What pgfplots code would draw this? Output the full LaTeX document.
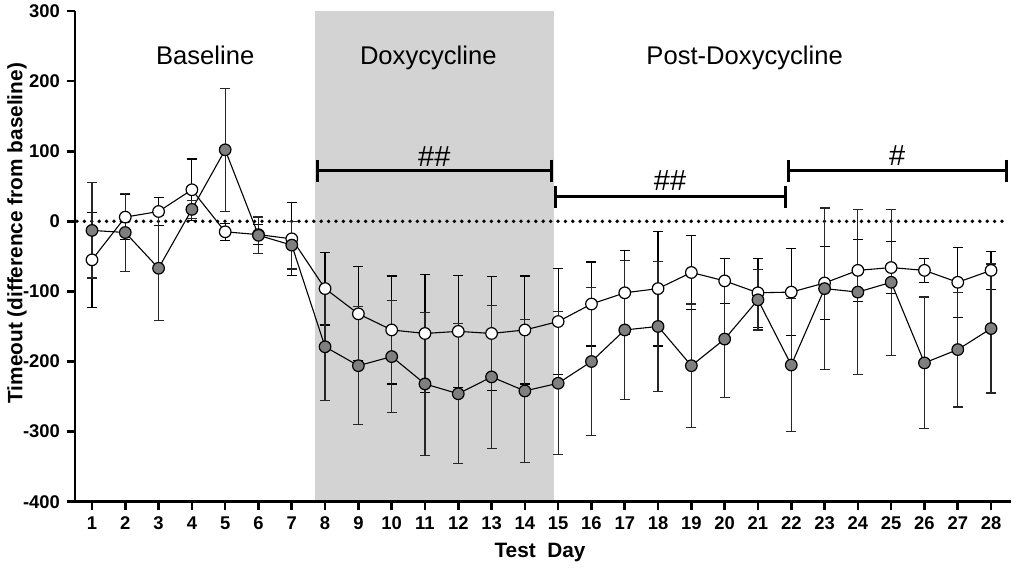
\documentclass[border=0pt]{standalone}
\usepackage{fontspec}
\setmainfont{Liberation Sans}
\usepackage{pgfplots}
\pgfplotsset{compat=1.18}
\usepackage{pgfplotstable}
\usetikzlibrary{arrows.meta}

\definecolor{shade}{HTML}{D3D3D3}
\definecolor{dotgray}{HTML}{7F7F7F}

% day, mean, sem  (open circles)
\pgfplotstableread{
day mean err
1 -55 68
2 6 32
3 14 20
4 45 44
5 -15 12
6 -19 14
7 -25 52
8 -96 52
9 -132 67
10 -155 77
11 -160 84
12 -157 80
13 -160 81
14 -155 77
15 -143 76
16 -118 60
17 -102 60
18 -96 82
19 -73 53
20 -85 32
21 -102 49
22 -101 62
23 -88 52
24 -70 44
25 -66 37
26 -70 17
27 -87 50
28 -70 27
}\openT

% filled circles
\pgfplotstableread{
day mean err
1 -13 68
2 -16 56
3 -67 75
4 17 13
5 102 88
6 -20 26
7 -34 34
8 -179 77
9 -206 84
10 -193 80
11 -232 102
12 -246 100
13 -222 102
14 -242 102
15 -231 102
16 -200 106
17 -155 99
18 -150 93
19 -206 88
20 -168 83
21 -112 43
22 -205 95
23 -96 115
24 -101 118
25 -87 104
26 -202 94
27 -183 82
28 -153 92
}\filledT

\begin{document}
\begin{tikzpicture}
\begin{axis}[
  scale only axis,
  width=467.85pt, height=245.35pt,
  xmin=0.49, xmax=28.59,
  ymin=-400, ymax=300,
  axis x line*=bottom, axis y line*=left,
  axis line style={line width=1.3pt},
  axis on top,
  clip=false,
  xtick={1,...,28},
  ytick={-400,-300,...,300},
  tick align=outside,
  major tick length=4pt,
  every tick/.style={black, line width=1.3pt},
  /pgf/number format/assume math mode=true,
  ticklabel style={font=\bfseries\fontsize{9.2}{10}\selectfont},
  xlabel={Test\ \ Day},
  ylabel={Timeout (difference from baseline)},
  every axis x label/.style={at={(rel axis cs:0.497,0)}, yshift=-25.5pt, anchor=center,
    font=\bfseries\fontsize{10.4}{12}\selectfont},
  every axis y label/.style={at={(rel axis cs:0,0.547)}, xshift=-29pt, rotate=90, anchor=center,
    font=\bfseries\fontsize{10.4}{12}\selectfont},
]
% doxycycline period
\addplot[draw=none, fill=shade, forget plot] coordinates {(7.7,-400) (14.87,-400) (14.87,300) (7.7,300)} -- cycle;
% zero line
\addplot[black, line width=1.9pt, line cap=round, dash pattern=on 0pt off 3.7pt, forget plot] coordinates {(0.55,0) (28.45,0)};

\addplot[black, line width=0.55pt, mark=*, mark size=2.9pt,
  mark options={fill=white, draw=black, line width=0.6pt},
  error bars/.cd, y dir=both, y explicit,
  error bar style={black, line width=0.6pt},
  error mark options={rotate=90, black, mark size=2.5pt, line width=0.6pt}]
  table[x=day, y=mean, y error=err] {\openT};

\addplot[black, line width=0.55pt, mark=*, mark size=2.9pt,
  mark options={fill=dotgray, draw=black, line width=0.6pt},
  error bars/.cd, y dir=both, y explicit,
  error bar style={black!85, line width=0.6pt},
  error mark options={rotate=90, black!85, mark size=2.5pt, line width=0.6pt}]
  table[x=day, y=mean, y error=err] {\filledT};

% phase labels
\node[anchor=base, font=\fontsize{12.8}{14}\selectfont] at (axis cs:4.4,224) {Baseline};
\node[anchor=base, font=\fontsize{12.8}{14}\selectfont] at (axis cs:11.1,224) {Doxycycline};
\node[anchor=base, font=\fontsize{12.8}{14}\selectfont] at (axis cs:20.6,224) {Post-Doxycycline};

% significance brackets
\draw[line width=1.5pt, {Bar[width=11.3pt]}-{Bar[width=11.3pt]}] (axis cs:7.73,72) -- (axis cs:14.84,72);
\draw[line width=1.5pt, {Bar[width=11pt]}-{Bar[width=11pt]}] (axis cs:14.88,35) -- (axis cs:21.87,35);
\draw[line width=1.5pt, {Bar[width=11.3pt]}-{Bar[width=11.3pt]}] (axis cs:21.87,72) -- (axis cs:28.5,72);
\node[anchor=base, font=\fontsize{14.5}{16}\selectfont] at (axis cs:11.28,78) {\#\#};
\node[anchor=base, font=\fontsize{14.5}{16}\selectfont] at (axis cs:18.36,44.6) {\#\#};
\node[anchor=base, font=\fontsize{14.5}{16}\selectfont] at (axis cs:25.18,80) {\#};
\end{axis}
\pgfresetboundingbox
\path (current axis.south west) ++(-37.5pt,-33.15pt) coordinate (bl);
\path (current axis.north east) ++(6.15pt,5.5pt) coordinate (tr);
\path[use as bounding box] (bl) rectangle (tr);
\end{tikzpicture}
\end{document}
